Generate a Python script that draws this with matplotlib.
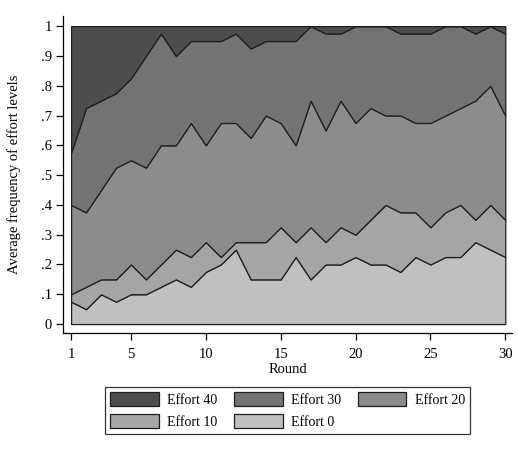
import numpy as np
import matplotlib
matplotlib.use("Agg")
import matplotlib.pyplot as plt
from matplotlib.patches import Patch

rounds = list(range(1, 31))
effort_0 = [.075, .05, .1, .075, .1, .1, .125, .15, .125, .175, .2, .25, .15, .15, .15,
            .225, .15, .2, .2, .225, .2, .2, .175, .225, .2, .225, .225, .275, .25, .225]
effort_10 = [.025, .075, .05, .075, .1, .05, .075, .1, .1, .1, .025, .025, .125, .125, .175,
             .05, .175, .075, .125, .075, .15, .2, .2, .15, .125, .15, .175, .075, .15, .125]
effort_20 = [.3, .25, .3, .375, .35, .375, .4, .35, .45, .325, .45, .4, .35, .425, .35,
             .325, .425, .375, .425, .375, .375, .3, .325, .3, .35, .325, .325, .4, .4, .35]
effort_30 = [.175, .35, .3, .25, .275, .375, .375, .3, .275, .35, .275, .3, .3, .25, .275,
             .35, .25, .325, .225, .325, .275, .3, .275, .3, .3, .3, .275, .225, .2, .275]
effort_40 = [.425, .275, .25, .225, .175, .1, .025, .1, .05, .05, .05, .025, .075, .05, .05,
             .05, 0, .025, .025, 0, 0, 0, .025, .025, .025, 0, 0, .025, 0, .025]

series_labels = ["Effort 0", "Effort 10", "Effort 20", "Effort 30", "Effort 40"]
colors = ["#c0c0c0", "#a5a5a5", "#8c8c8c", "#737373", "#4d4d4d"]
yticks = [0, .1, .2, .3, .4, .5, .6, .7, .8, .9, 1]
ytick_labels = ["0", ".1", ".2", ".3", ".4", ".5", ".6", ".7", ".8", ".9", "1"]
xticks = [1, 5, 10, 15, 20, 25, 30]

plt.rcParams['font.family'] = ['Liberation Serif', 'DejaVu Serif']
fs = 10.5
lfs = 10

fig = plt.figure(figsize=(5.18, 4.57), dpi=100, facecolor="white")
ax = fig.add_axes([63/518, 1 - 333/457, (512 - 63)/518, (333 - 16)/457])
ax.set_facecolor("white")

stacks = ax.stackplot(rounds, effort_0, effort_10, effort_20, effort_30, effort_40,
                      colors=colors, edgecolor="#1e1e1e", linewidth=0.9)

ax.set_xlim(0.46, 30.45)
ax.set_ylim(-0.03, 1.034)
ax.set_xticks(xticks)
ax.set_yticks(yticks)
ax.set_yticklabels(ytick_labels)
ax.tick_params(axis="both", direction="out", length=5, width=0.9, labelsize=fs, colors="black")
ax.tick_params(axis="x", pad=6)
ax.tick_params(axis="y", pad=3)
for s in ["top", "right"]:
    ax.spines[s].set_visible(False)
for s in ["left", "bottom"]:
    ax.spines[s].set_linewidth(0.9)

ax.set_xlabel("Round", fontsize=fs, labelpad=1)
ax.set_ylabel("Average frequency of effort levels", fontsize=fs, labelpad=14)

# legend order: row1 E40, E30, E20 ; row2 E10, E0
order = [4, 1, 3, 0, 2]
handles = [Patch(facecolor=colors[i], edgecolor="#1e1e1e", linewidth=0.9) for i in order]
labels = [series_labels[i] for i in order]
leg = fig.legend(handles, labels, ncol=3, loc="center", bbox_to_anchor=(287.5/518, 46.5/457),
                 fontsize=lfs, frameon=True, fancybox=False, edgecolor="black",
                 handlelength=3.5, handleheight=1.15, handletextpad=0.6, columnspacing=1.2,
                 labelspacing=0.5, borderpad=0.4, borderaxespad=0)
leg.get_frame().set_linewidth(0.9)

fig.savefig("out.png", dpi=100, facecolor="white")
